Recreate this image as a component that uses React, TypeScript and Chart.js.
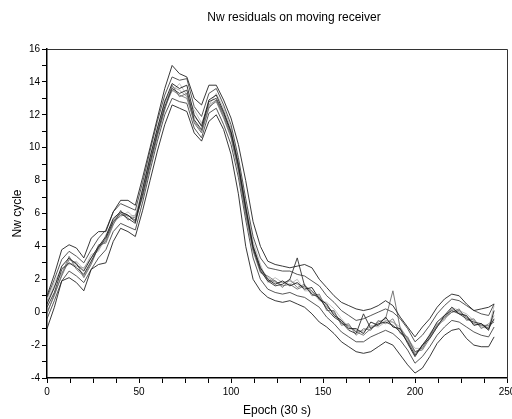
import React, { useEffect, useRef } from 'react';
import { Chart, registerables } from 'chart.js';

Chart.register(...registerables);

const FONT = '"Liberation Sans", Arial, Helvetica, sans-serif';

const titleText = 'Nw residuals on moving receiver';
const xTitle = 'Epoch (30 s)';
const yTitle = 'Nw cycle';

const epochs = [
  0, 4, 8, 12, 16, 20, 24, 28, 32, 36,
  40, 44, 48, 52, 56, 60, 64, 68, 72, 76,
  80, 84, 88, 92, 96, 100, 104, 108, 112, 116,
  120, 124, 128, 132, 136, 140, 144, 148, 152, 156,
  160, 164, 168, 172, 176, 180, 184, 188, 192, 196,
  200, 204, 208, 212, 216, 220, 224, 228, 232, 236,
  240, 243,
];

const outerUpper = [
  1.0, 2.3, 3.8, 4.1, 3.9, 3.3, 4.5, 4.9, 4.9, 6.1,
  6.8, 6.8, 6.5, 8.2, 10.0, 11.8, 13.6, 15.0, 14.5, 14.3,
  13.0, 12.6, 13.8, 13.8, 12.9, 11.8, 10.2, 8.0, 5.5, 4.0,
  3.1, 2.9, 2.8, 2.7, 2.8, 2.9, 2.7, 2.0, 1.5, 1.0,
  0.6, 0.4, 0.2, 0.1, 0.2, 0.4, 0.7, 0.4, -0.3, -0.9,
  -1.5, -0.9, -0.4, 0.3, 0.8, 1.1, 1.0, 0.5, 0.1, 0.2,
  0.3, 0.5,
];

const outerLower = [
  -1.0, 0.3, 1.9, 2.1, 1.8, 1.3, 2.6, 2.9, 3.0, 4.3,
  5.1, 4.9, 4.6, 6.2, 8.0, 9.8, 11.4, 12.6, 12.4, 12.2,
  10.9, 10.4, 11.6, 12.0, 11.1, 9.6, 7.2, 4.0, 2.0, 1.3,
  0.9, 0.7, 0.6, 0.7, 0.5, 0.3, -0.1, -0.6, -0.9, -1.3,
  -1.8, -2.1, -2.4, -2.5, -2.4, -2.1, -1.8, -2.0, -2.6, -3.2,
  -3.7, -3.4, -2.7, -1.9, -1.4, -1.1, -1.0, -1.6, -2.0, -2.1,
  -2.1, -1.5,
];

const innerUpper = [
  0.9, 2.0, 3.2, 3.7, 3.4, 3.0, 3.8, 4.5, 5.0, 6.1,
  6.6, 6.4, 6.2, 7.9, 9.8, 11.6, 13.2, 14.3, 14.1, 14.2,
  12.5, 11.9, 13.3, 13.6, 12.6, 11.4, 9.4, 6.9, 4.6, 3.3,
  2.7, 2.6, 2.5, 2.5, 2.3, 2.2, 1.9, 1.6, 1.0, 0.6,
  0.1, -0.2, -0.5, -0.4, -0.2, 0.0, 0.2, 0.0, -0.4, -1.0,
  -1.8, -1.4, -0.8, -0.1, 0.4, 0.8, 0.7, 0.4, 0.1, -0.1,
  -0.2, 0.5,
];

const innerLower = [
  -0.4, 0.7, 1.9, 2.5, 2.2, 1.8, 2.6, 3.3, 3.8, 4.9,
  5.4, 5.2, 5.0, 6.7, 8.6, 10.4, 12.0, 13.0, 12.8, 12.7,
  11.2, 10.6, 12.1, 12.4, 11.4, 10.2, 8.2, 5.6, 3.3, 2.0,
  1.4, 1.2, 1.1, 1.2, 1.0, 0.9, 0.6, 0.3, -0.3, -0.7,
  -1.2, -1.5, -1.8, -1.8, -1.5, -1.3, -1.1, -1.3, -1.7, -2.3,
  -3.1, -2.7, -2.1, -1.4, -0.9, -0.5, -0.6, -0.9, -1.2, -1.4,
  -1.5, -0.9,
];

const seriesA = [
  0.5, 1.5, 2.8, 3.3, 2.9, 2.5, 3.3, 4.0, 4.6, 5.7,
  6.1, 5.9, 5.5, 7.5, 9.4, 11.2, 12.8, 13.9, 13.6, 13.8,
  12.0, 11.3, 12.9, 13.2, 12.2, 11.0, 9.0, 6.4, 4.0, 2.7,
  2.0, 1.7, 1.9, 1.6, 1.8, 1.4, 1.5, 0.8, 0.5, -0.2,
  -0.5, -1.0, -1.0, -1.3, -0.6, -0.8, -0.3, -0.9, -1.0, -1.9,
  -2.7, -2.0, -1.4, -0.6, -0.2, 0.3, -0.1, -0.2, -0.8, -0.7,
  -1.1, 0.1,
];

const seriesB = [
  0.0, 1.0, 2.3, 3.4, 2.6, 2.2, 3.0, 4.1, 4.2, 5.3,
  6.2, 5.6, 5.8, 7.1, 9.0, 10.8, 12.4, 13.5, 13.2, 13.0,
  11.6, 11.0, 12.5, 12.8, 11.8, 10.6, 8.6, 6.0, 3.7, 2.4,
  2.2, 1.9, 1.5, 2.0, 1.5, 1.7, 1.0, 1.1, 0.1, 0.1,
  -0.8, -0.7, -1.4, -1.0, -1.1, -0.5, -0.7, -0.4, -1.3, -1.5,
  -2.4, -2.3, -1.6, -0.9, -0.4, 0.0, 0.2, -0.5, -0.4, -1.0,
  -0.7, -0.5,
];

const seriesC = [
  0.8, 1.8, 2.7, 2.9, 3.1, 2.6, 3.5, 3.7, 4.7, 5.6,
  5.8, 6.1, 5.7, 7.6, 9.5, 11.1, 12.9, 13.4, 13.9, 13.2,
  12.3, 11.5, 12.6, 13.3, 12.4, 11.2, 9.2, 6.6, 4.3, 2.9,
  1.8, 2.1, 1.8, 1.7, 2.0, 1.3, 1.3, 0.7, 0.6, 0.2,
  -0.4, -0.9, -1.1, -1.2, -0.8, -0.9, -0.6, -0.6, -0.9, -1.6,
  -2.2, -2.2, -1.3, -0.7, -0.5, 0.3, 0.1, -0.1, -0.5, -0.9,
  -1.0, 0.4,
];

const seriesD = [
  0.3, 1.2, 2.6, 3.0, 2.7, 2.3, 3.1, 3.9, 4.5, 5.5,
  6.0, 5.7, 5.4, 7.2, 9.1, 10.9, 12.5, 13.6, 13.3, 13.5,
  11.7, 11.1, 12.8, 13.0, 12.1, 10.9, 8.9, 6.3, 3.9, 2.5,
  1.9, 1.6, 1.7, 2.0, 3.3, 1.6, 1.1, 0.9, 0.2, -0.3,
  -0.6, -1.1, -1.3, -0.1, -1.0, -0.7, -0.6, -0.8, -1.2, -1.8,
  -2.6, -2.0, -1.6, -0.9, -0.2, 0.1, -0.1, -0.4, -0.6, -0.7,
  -1.0, -0.4,
];

const seriesE = [
  -0.1, 1.1, 2.2, 3.2, 3.0, 2.1, 2.9, 4.0, 4.3, 5.4,
  5.9, 5.9, 5.6, 7.0, 8.9, 10.7, 12.3, 13.8, 13.1, 13.3,
  11.5, 10.9, 12.4, 12.9, 11.9, 10.7, 8.7, 6.0, 3.8, 2.6,
  1.9, 1.9, 1.6, 1.7, 1.4, 1.6, 1.3, 0.8, 0.3, 0.0,
  -0.7, -0.8, -1.2, -1.4, -1.0, -0.6, -0.4, 1.3, -1.0, -1.6,
  -2.4, -2.2, -1.5, -0.8, -0.3, 0.0, 0.1, -0.3, -0.7, -0.8,
  -0.8, -0.6,
];

const seriesF = [
  0.6, 1.6, 2.4, 3.0, 2.8, 2.7, 3.3, 3.8, 4.4, 5.6,
  6.1, 5.8, 5.9, 7.4, 9.3, 11.0, 12.7, 13.7, 13.5, 13.1,
  11.9, 11.4, 12.6, 12.9, 12.0, 10.8, 8.8, 6.2, 4.1, 2.7,
  2.1, 1.8, 1.8, 1.9, 1.7, 1.5, 1.2, 1.0, 0.4, -0.1,
  -0.5, -0.9, -1.2, -1.1, -0.9, -0.8, -0.5, -0.6, -1.1, -1.7,
  -2.5, -2.1, -1.4, -0.8, -0.3, 0.2, 0.0, -0.3, -0.5, -0.9,
  -0.9, -0.2,
];

const seriesList = [
  { values: seriesC, color: '#b8b8b8', width: 0.9 },
  { values: seriesF, color: '#a0a0a0', width: 0.9 },
  { values: seriesB, color: '#7a7a7a', width: 0.9 },
  { values: seriesE, color: '#6a6a6a', width: 0.9 },
  { values: innerUpper, color: '#444444', width: 0.9 },
  { values: innerLower, color: '#444444', width: 0.9 },
  { values: seriesD, color: '#303030', width: 0.9 },
  { values: seriesA, color: '#1a1a1a', width: 0.9 },
  { values: outerUpper, color: '#222222', width: 0.9 },
  { values: outerLower, color: '#222222', width: 0.9 },
];

const decorPlugin = {
  id: 'decor',
  afterDraw(chart: any) {
    const { ctx, chartArea } = chart;
    const { left, right, top, bottom } = chartArea;
    ctx.save();
    ctx.strokeStyle = '#333';
    ctx.lineWidth = 1;
    ctx.beginPath();
    ctx.moveTo(left, top + 0.5);
    ctx.lineTo(right + 0.5, top + 0.5);
    ctx.lineTo(right + 0.5, bottom);
    ctx.stroke();

    ctx.fillStyle = '#000';
    ctx.textBaseline = 'middle';
    ctx.textAlign = 'center';
    ctx.font = `12px ${FONT}`;
    ctx.fillText(titleText, 294, 18);
    ctx.fillText(xTitle, (left + right) / 2, 411);
    ctx.translate(18, (top + bottom) / 2);
    ctx.rotate(-Math.PI / 2);
    ctx.fillText(yTitle, 0, 0);
    ctx.restore();
  },
};

export default function App() {
  const ref = useRef<HTMLCanvasElement>(null);

  useEffect(() => {
    const canvas = ref.current;
    if (!canvas) return;
    const datasets = seriesList
      .slice()
      .reverse()
      .map((s) => ({
        data: epochs.map((e, i) => ({ x: e, y: s.values[i] })),
        borderColor: s.color,
        borderWidth: s.width,
        pointRadius: 0,
        fill: false,
        tension: 0,
      }));
    const chart = new Chart(canvas, {
      type: 'line',
      data: { datasets },
      options: {
        responsive: false,
        animation: false,
        devicePixelRatio: 1,
        layout: { padding: { top: 49, right: 5, left: 0, bottom: 0 } },
        plugins: {
          legend: { display: false },
          tooltip: { enabled: false },
          title: { display: false },
        },
        scales: {
          x: {
            type: 'linear',
            min: 0,
            max: 250,
            afterFit: (s: any) => {
              s.height = 41;
              s.paddingLeft = 0;
              s.paddingRight = 0;
            },
            border: { display: true, color: '#000', width: 1.5 },
            grid: {
              display: true,
              drawOnChartArea: false,
              drawTicks: true,
              tickLength: 5,
              tickColor: '#000',
              tickWidth: 1,
            },
            ticks: {
              stepSize: 12.5,
              autoSkip: false,
              maxRotation: 0,
              padding: 3,
              color: '#000',
              font: { family: FONT, size: 10 },
              callback: (v: any) => (Number(v) % 50 === 0 ? String(v) : ''),
            },
          },
          y: {
            type: 'linear',
            min: -4,
            max: 16,
            afterFit: (s: any) => {
              s.width = 47;
              s.paddingTop = 0;
              s.paddingBottom = 0;
            },
            border: { display: true, color: '#000', width: 1.5 },
            grid: {
              display: true,
              drawOnChartArea: false,
              drawTicks: true,
              tickLength: 5,
              tickColor: '#000',
              tickWidth: 1,
            },
            ticks: {
              stepSize: 1,
              autoSkip: false,
              padding: 2,
              color: '#000',
              font: { family: FONT, size: 10 },
              callback: (v: any) => (Number(v) % 2 === 0 ? String(v) : ''),
            },
          },
        },
      },
      plugins: [decorPlugin],
    } as any);
    return () => chart.destroy();
  }, []);

  return (
    <div style={{ position: 'fixed', left: 0, top: 0, width: 512, height: 419, background: '#fff' }}>
      <canvas ref={ref} width={512} height={419} />
    </div>
  );
}
